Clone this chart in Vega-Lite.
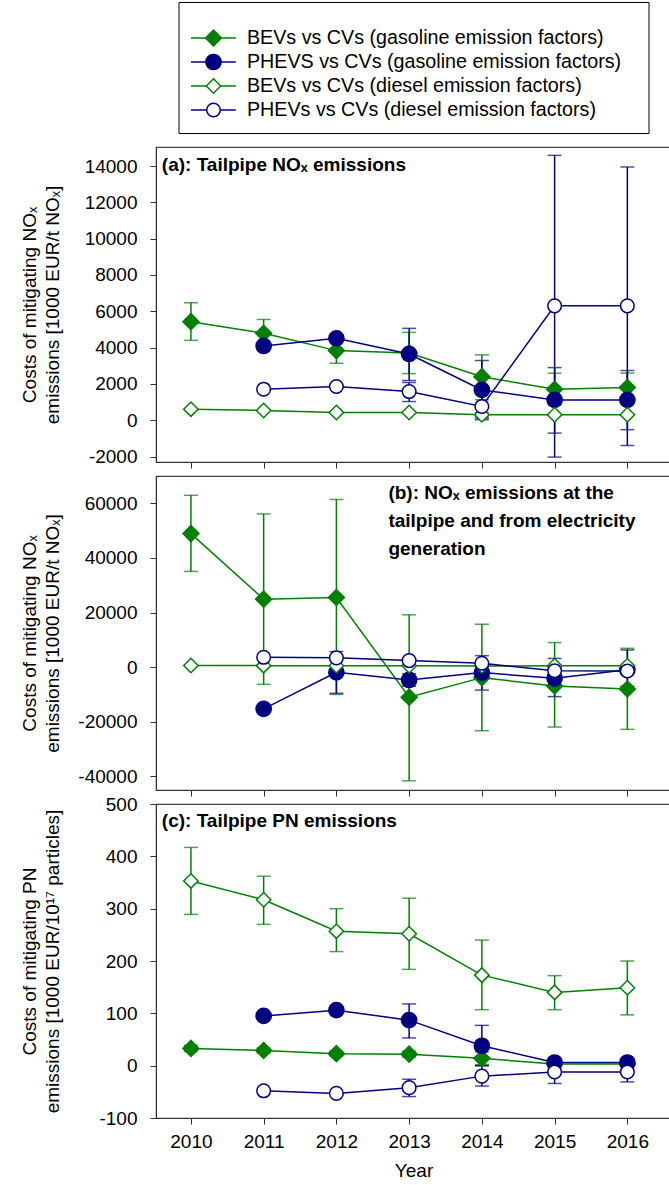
{
  "$schema": "https://vega.github.io/schema/vega-lite/v6.json",
  "padding": {"left": 19, "top": 1, "right": 0, "bottom": 0},
  "bounds": "flush",
  "center": true,
  "spacing": 14,
  "config": {
    "font": "Liberation Sans",
    "view": {"stroke": "#444", "strokeWidth": 1.2},
    "legend": {"disable": true},
    "axis": {"labelFont": "Liberation Sans", "titleFont": "Liberation Sans", "labelFontSize": 19, "titleFontSize": 19, "titleFontWeight": "normal", "labelColor": "black", "titleColor": "black", "domainColor": "#333", "tickColor": "#333", "tickSize": 6, "grid": false, "labelPadding": 13, "titleLineHeight": 23, "labelOverlap": false}
  },
  "datasets": {
    "legend": [
      {"series": "BEVs vs CVs (gasoline emission factors)"},
      {"series": "PHEVS vs CVs (gasoline emission factors)"},
      {"series": "BEVs vs CVs (diesel emission factors)"},
      {"series": "PHEVs vs CVs (diesel emission factors)"}
    ],
    "a": [
      {"series": "BEVs vs CVs (gasoline emission factors)", "year": 2010, "value": 5430, "lo": 4400, "hi": 6470},
      {"series": "BEVs vs CVs (gasoline emission factors)", "year": 2011, "value": 4790, "lo": 4050, "hi": 5550},
      {"series": "BEVs vs CVs (gasoline emission factors)", "year": 2012, "value": 3835, "lo": 3140, "hi": 4530},
      {"series": "BEVs vs CVs (gasoline emission factors)", "year": 2013, "value": 3700, "lo": 2570, "hi": 4840},
      {"series": "BEVs vs CVs (gasoline emission factors)", "year": 2014, "value": 2400, "lo": 1130, "hi": 3600},
      {"series": "BEVs vs CVs (gasoline emission factors)", "year": 2015, "value": 1710, "lo": 830, "hi": 2590},
      {"series": "BEVs vs CVs (gasoline emission factors)", "year": 2016, "value": 1800, "lo": 1000, "hi": 2600},
      {"series": "PHEVS vs CVs (gasoline emission factors)", "year": 2011, "value": 4090, "lo": null, "hi": null},
      {"series": "PHEVS vs CVs (gasoline emission factors)", "year": 2012, "value": 4510, "lo": null, "hi": null},
      {"series": "PHEVS vs CVs (gasoline emission factors)", "year": 2013, "value": 3650, "lo": 2190, "hi": 5060},
      {"series": "PHEVS vs CVs (gasoline emission factors)", "year": 2014, "value": 1670, "lo": 120, "hi": 3290},
      {"series": "PHEVS vs CVs (gasoline emission factors)", "year": 2015, "value": 1120, "lo": -710, "hi": 2900},
      {"series": "PHEVS vs CVs (gasoline emission factors)", "year": 2016, "value": 1120, "lo": -520, "hi": 2740},
      {"series": "BEVs vs CVs (diesel emission factors)", "year": 2010, "value": 610, "lo": null, "hi": null},
      {"series": "BEVs vs CVs (diesel emission factors)", "year": 2011, "value": 540, "lo": null, "hi": null},
      {"series": "BEVs vs CVs (diesel emission factors)", "year": 2012, "value": 430, "lo": null, "hi": null},
      {"series": "BEVs vs CVs (diesel emission factors)", "year": 2013, "value": 430, "lo": null, "hi": null},
      {"series": "BEVs vs CVs (diesel emission factors)", "year": 2014, "value": 300, "lo": 180, "hi": 420},
      {"series": "BEVs vs CVs (diesel emission factors)", "year": 2015, "value": 300, "lo": null, "hi": null},
      {"series": "BEVs vs CVs (diesel emission factors)", "year": 2016, "value": 300, "lo": null, "hi": null},
      {"series": "PHEVs vs CVs (diesel emission factors)", "year": 2011, "value": 1710, "lo": null, "hi": null},
      {"series": "PHEVs vs CVs (diesel emission factors)", "year": 2012, "value": 1860, "lo": null, "hi": null},
      {"series": "PHEVs vs CVs (diesel emission factors)", "year": 2013, "value": 1580, "lo": 1030, "hi": 2080},
      {"series": "PHEVs vs CVs (diesel emission factors)", "year": 2014, "value": 760, "lo": 30, "hi": 1480},
      {"series": "PHEVs vs CVs (diesel emission factors)", "year": 2015, "value": 6300, "lo": -2030, "hi": 14590},
      {"series": "PHEVs vs CVs (diesel emission factors)", "year": 2016, "value": 6300, "lo": -1390, "hi": 13950}
    ],
    "b": [
      {"series": "BEVs vs CVs (gasoline emission factors)", "year": 2010, "value": 48900, "lo": 35050, "hi": 62940},
      {"series": "BEVs vs CVs (gasoline emission factors)", "year": 2011, "value": 24900, "lo": -6300, "hi": 56100},
      {"series": "BEVs vs CVs (gasoline emission factors)", "year": 2012, "value": 25500, "lo": -10000, "hi": 61400},
      {"series": "BEVs vs CVs (gasoline emission factors)", "year": 2013, "value": -11000, "lo": -41650, "hi": 19150},
      {"series": "BEVs vs CVs (gasoline emission factors)", "year": 2014, "value": -3850, "lo": -23300, "hi": 15700},
      {"series": "BEVs vs CVs (gasoline emission factors)", "year": 2015, "value": -6900, "lo": -21950, "hi": 9000},
      {"series": "BEVs vs CVs (gasoline emission factors)", "year": 2016, "value": -8000, "lo": -22800, "hi": 6900},
      {"series": "PHEVS vs CVs (gasoline emission factors)", "year": 2011, "value": -15300, "lo": null, "hi": null},
      {"series": "PHEVS vs CVs (gasoline emission factors)", "year": 2012, "value": -1900, "lo": -9600, "hi": 5700},
      {"series": "PHEVS vs CVs (gasoline emission factors)", "year": 2013, "value": -4700, "lo": -7000, "hi": -2400},
      {"series": "PHEVS vs CVs (gasoline emission factors)", "year": 2014, "value": -2000, "lo": -8400, "hi": 4200},
      {"series": "PHEVS vs CVs (gasoline emission factors)", "year": 2015, "value": -4100, "lo": -10800, "hi": 3200},
      {"series": "PHEVS vs CVs (gasoline emission factors)", "year": 2016, "value": -1000, "lo": -7000, "hi": 6300},
      {"series": "BEVs vs CVs (diesel emission factors)", "year": 2010, "value": 600, "lo": null, "hi": null},
      {"series": "BEVs vs CVs (diesel emission factors)", "year": 2011, "value": 550, "lo": null, "hi": null},
      {"series": "BEVs vs CVs (diesel emission factors)", "year": 2012, "value": 500, "lo": null, "hi": null},
      {"series": "BEVs vs CVs (diesel emission factors)", "year": 2013, "value": 500, "lo": null, "hi": null},
      {"series": "BEVs vs CVs (diesel emission factors)", "year": 2014, "value": 400, "lo": null, "hi": null},
      {"series": "BEVs vs CVs (diesel emission factors)", "year": 2015, "value": 500, "lo": null, "hi": null},
      {"series": "BEVs vs CVs (diesel emission factors)", "year": 2016, "value": 500, "lo": null, "hi": null},
      {"series": "PHEVs vs CVs (diesel emission factors)", "year": 2011, "value": 3600, "lo": null, "hi": null},
      {"series": "PHEVs vs CVs (diesel emission factors)", "year": 2012, "value": 3400, "lo": null, "hi": null},
      {"series": "PHEVs vs CVs (diesel emission factors)", "year": 2013, "value": 2400, "lo": null, "hi": null},
      {"series": "PHEVs vs CVs (diesel emission factors)", "year": 2014, "value": 1400, "lo": null, "hi": null},
      {"series": "PHEVs vs CVs (diesel emission factors)", "year": 2015, "value": -1300, "lo": null, "hi": null},
      {"series": "PHEVs vs CVs (diesel emission factors)", "year": 2016, "value": -1400, "lo": null, "hi": null}
    ],
    "c": [
      {"series": "BEVs vs CVs (gasoline emission factors)", "year": 2010, "value": 33, "lo": 27, "hi": 39},
      {"series": "BEVs vs CVs (gasoline emission factors)", "year": 2011, "value": 29, "lo": 24, "hi": 34},
      {"series": "BEVs vs CVs (gasoline emission factors)", "year": 2012, "value": 23, "lo": 18, "hi": 28},
      {"series": "BEVs vs CVs (gasoline emission factors)", "year": 2013, "value": 22, "lo": 16, "hi": 28},
      {"series": "BEVs vs CVs (gasoline emission factors)", "year": 2014, "value": 14, "lo": 2, "hi": 26},
      {"series": "BEVs vs CVs (gasoline emission factors)", "year": 2015, "value": 3, "lo": 0, "hi": 6},
      {"series": "BEVs vs CVs (gasoline emission factors)", "year": 2016, "value": 3, "lo": 0, "hi": 6},
      {"series": "PHEVS vs CVs (gasoline emission factors)", "year": 2011, "value": 95, "lo": null, "hi": null},
      {"series": "PHEVS vs CVs (gasoline emission factors)", "year": 2012, "value": 106, "lo": null, "hi": null},
      {"series": "PHEVS vs CVs (gasoline emission factors)", "year": 2013, "value": 87, "lo": 53, "hi": 118},
      {"series": "PHEVS vs CVs (gasoline emission factors)", "year": 2014, "value": 38, "lo": 0, "hi": 77},
      {"series": "PHEVS vs CVs (gasoline emission factors)", "year": 2015, "value": 6, "lo": -2, "hi": 12},
      {"series": "PHEVS vs CVs (gasoline emission factors)", "year": 2016, "value": 6, "lo": -2, "hi": 12},
      {"series": "BEVs vs CVs (diesel emission factors)", "year": 2010, "value": 353, "lo": 289, "hi": 417},
      {"series": "BEVs vs CVs (diesel emission factors)", "year": 2011, "value": 317, "lo": 270, "hi": 362},
      {"series": "BEVs vs CVs (diesel emission factors)", "year": 2012, "value": 257, "lo": 218, "hi": 300},
      {"series": "BEVs vs CVs (diesel emission factors)", "year": 2013, "value": 252, "lo": 184, "hi": 320},
      {"series": "BEVs vs CVs (diesel emission factors)", "year": 2014, "value": 173, "lo": 107, "hi": 240},
      {"series": "BEVs vs CVs (diesel emission factors)", "year": 2015, "value": 140, "lo": 107, "hi": 172},
      {"series": "BEVs vs CVs (diesel emission factors)", "year": 2016, "value": 149, "lo": 97, "hi": 200},
      {"series": "PHEVs vs CVs (diesel emission factors)", "year": 2011, "value": -48, "lo": null, "hi": null},
      {"series": "PHEVs vs CVs (diesel emission factors)", "year": 2012, "value": -53, "lo": null, "hi": null},
      {"series": "PHEVs vs CVs (diesel emission factors)", "year": 2013, "value": -42, "lo": -59, "hi": -26},
      {"series": "PHEVs vs CVs (diesel emission factors)", "year": 2014, "value": -20, "lo": -39, "hi": 0},
      {"series": "PHEVs vs CVs (diesel emission factors)", "year": 2015, "value": -12, "lo": -34, "hi": 7},
      {"series": "PHEVs vs CVs (diesel emission factors)", "year": 2016, "value": -12, "lo": -31, "hi": 6}
    ]
  },
  "vconcat": [
    {
      "width": 470, "height": 131,
      "view": {"stroke": "black", "strokeWidth": 1},
      "data": {"name": "legend"},
      "encoding": {
        "y": {"field": "series", "type": "nominal", "scale": {"type": "point", "domain": ["BEVs vs CVs (gasoline emission factors)", "PHEVS vs CVs (gasoline emission factors)", "BEVs vs CVs (diesel emission factors)", "PHEVs vs CVs (diesel emission factors)"], "padding": 0, "range": [36, 108]}, "axis": null}
      },
      "layer": [
        {
          "mark": {"type": "rule", "strokeWidth": 1.5},
          "encoding": {
            "x": {"datum": 0.0266, "type": "quantitative", "scale": {"domain": [0, 1], "nice": false, "zero": false}, "axis": null},
            "x2": {"datum": 0.122},
            "color": {"field": "series", "type": "nominal"}
          }
        },
        {
          "mark": {"type": "point", "strokeWidth": 1.5, "opacity": 1},
          "encoding": {
            "x": {"datum": 0.0745, "type": "quantitative"},
            "shape": {"field": "series", "type": "nominal"},
            "fill": {"field": "series", "type": "nominal"},
            "stroke": {"field": "series", "type": "nominal"},
            "size": {"field": "series", "type": "nominal"}
          }
        },
        {
          "mark": {"type": "text", "align": "left", "baseline": "middle", "font": "Liberation Sans", "fontSize": 19.7, "color": "black"},
          "encoding": {
            "x": {"datum": 0.1457, "type": "quantitative"},
            "text": {"field": "series", "type": "nominal"}
          }
        }
      ]
    },
    {
      "width": 515, "height": 315,
      "data": {"name": "a"},
      "encoding": {
        "x": {"field": "year", "type": "quantitative", "scale": {"domain": [2009.52, 2016.6], "nice": false, "zero": false}, "axis": {"values": [2010, 2011, 2012, 2013, 2014, 2015, 2016], "tickCount": 20, "labels": false, "title": null}}
      },
      "layer": [
        {
          "transform": [{"filter": "isValid(datum.lo)"}],
          "mark": {"type": "errorbar", "ticks": {"size": 14, "thickness": 1.5}, "thickness": 1.5},
          "encoding": {
            "y": {"field": "lo", "type": "quantitative", "scale": {"domain": [-2300, 15050], "nice": false, "zero": false}, "axis": {"values": [-2000, 0, 2000, 4000, 6000, 8000, 10000, 12000, 14000], "tickCount": 20, "labelExpr": "datum.value + ''", "labelOverlap": false, "title": ["Costs of mitigating NOₓ", "emissions [1000 EUR/t NOₓ]"], "titleX": -117}},
            "y2": {"field": "hi"},
            "color": {"field": "series", "type": "nominal", "scale": {"domain": ["BEVs vs CVs (gasoline emission factors)", "PHEVS vs CVs (gasoline emission factors)", "BEVs vs CVs (diesel emission factors)", "PHEVs vs CVs (diesel emission factors)"], "range": ["#008000", "#000080", "#008000", "#000080"]}}
          }
        },
        {
          "mark": {"type": "line", "strokeWidth": 1.5},
          "encoding": {
            "y": {"field": "value", "type": "quantitative", "scale": {"domain": [-2300, 15050], "nice": false, "zero": false}, "axis": {"values": [-2000, 0, 2000, 4000, 6000, 8000, 10000, 12000, 14000], "tickCount": 20, "labelExpr": "datum.value + ''", "labelOverlap": false, "title": ["Costs of mitigating NOₓ", "emissions [1000 EUR/t NOₓ]"], "titleX": -117}},
            "color": {"field": "series", "type": "nominal"}
          }
        },
        {
          "mark": {"type": "point", "strokeWidth": 1.5, "opacity": 1},
          "encoding": {
            "y": {"field": "value", "type": "quantitative"},
            "shape": {"field": "series", "type": "nominal", "scale": {"domain": ["BEVs vs CVs (gasoline emission factors)", "PHEVS vs CVs (gasoline emission factors)", "BEVs vs CVs (diesel emission factors)", "PHEVs vs CVs (diesel emission factors)"], "range": ["diamond", "circle", "diamond", "circle"]}},
            "fill": {"field": "series", "type": "nominal", "scale": {"domain": ["BEVs vs CVs (gasoline emission factors)", "PHEVS vs CVs (gasoline emission factors)", "BEVs vs CVs (diesel emission factors)", "PHEVs vs CVs (diesel emission factors)"], "range": ["#008000", "#000080", "white", "white"]}},
            "stroke": {"field": "series", "type": "nominal", "scale": {"domain": ["BEVs vs CVs (gasoline emission factors)", "PHEVS vs CVs (gasoline emission factors)", "BEVs vs CVs (diesel emission factors)", "PHEVs vs CVs (diesel emission factors)"], "range": ["#008000", "#000080", "#008000", "#000080"]}},
            "size": {"field": "series", "type": "nominal", "scale": {"domain": ["BEVs vs CVs (gasoline emission factors)", "PHEVS vs CVs (gasoline emission factors)", "BEVs vs CVs (diesel emission factors)", "PHEVs vs CVs (diesel emission factors)"], "range": [256, 185, 256, 170]}}
          }
        },
        {
          "transform": [{"filter": "datum.year === 2010 && indexof(datum.series, 'BEVs vs CVs (gasoline') === 0"}],
          "mark": {"type": "text", "align": "left", "baseline": "middle", "font": "Liberation Sans", "fontSize": 19, "fontWeight": "bold", "color": "black"},
          "encoding": {"x": {"datum": 2009.6, "type": "quantitative"}, "y": {"datum": 14060, "type": "quantitative"}, "text": {"value": "(a): Tailpipe NOₓ emissions"}}
        }
      ]
    },
    {
      "width": 515, "height": 314,
      "data": {"name": "b"},
      "encoding": {
        "x": {"field": "year", "type": "quantitative", "scale": {"domain": [2009.52, 2016.6], "nice": false, "zero": false}, "axis": {"values": [2010, 2011, 2012, 2013, 2014, 2015, 2016], "tickCount": 20, "labels": false, "title": null}}
      },
      "layer": [
        {
          "transform": [{"filter": "isValid(datum.lo)"}],
          "mark": {"type": "errorbar", "ticks": {"size": 14, "thickness": 1.5}, "thickness": 1.5},
          "encoding": {
            "y": {"field": "lo", "type": "quantitative", "scale": {"domain": [-45000, 70000], "nice": false, "zero": false}, "axis": {"values": [-40000, -20000, 0, 20000, 40000, 60000], "tickCount": 20, "labelExpr": "datum.value + ''", "labelOverlap": false, "title": ["Costs of mitigating NOₓ", "emissions [1000 EUR/t NOₓ]"], "titleX": -117}},
            "y2": {"field": "hi"},
            "color": {"field": "series", "type": "nominal"}
          }
        },
        {
          "mark": {"type": "line", "strokeWidth": 1.5},
          "encoding": {
            "y": {"field": "value", "type": "quantitative", "scale": {"domain": [-45000, 70000], "nice": false, "zero": false}, "axis": {"values": [-40000, -20000, 0, 20000, 40000, 60000], "tickCount": 20, "labelExpr": "datum.value + ''", "labelOverlap": false, "title": ["Costs of mitigating NOₓ", "emissions [1000 EUR/t NOₓ]"], "titleX": -117}},
            "color": {"field": "series", "type": "nominal"}
          }
        },
        {
          "mark": {"type": "point", "strokeWidth": 1.5, "opacity": 1},
          "encoding": {
            "y": {"field": "value", "type": "quantitative"},
            "shape": {"field": "series", "type": "nominal"},
            "fill": {"field": "series", "type": "nominal"},
            "stroke": {"field": "series", "type": "nominal"},
            "size": {"field": "series", "type": "nominal"}
          }
        },
        {
          "transform": [{"filter": "datum.year === 2010 && indexof(datum.series, 'BEVs vs CVs (gasoline') === 0"}],
          "mark": {"type": "text", "align": "left", "baseline": "top", "font": "Liberation Sans", "fontSize": 19, "fontWeight": "bold", "color": "black", "lineHeight": 28},
          "encoding": {"x": {"datum": 2012.715, "type": "quantitative"}, "y": {"datum": 67200, "type": "quantitative"}, "text": {"value": ["(b): NOₓ emissions at the", "tailpipe and from electricity", "generation"]}}
        }
      ]
    },
    {
      "width": 515, "height": 314,
      "data": {"name": "c"},
      "encoding": {
        "x": {"field": "year", "type": "quantitative", "scale": {"domain": [2009.52, 2016.6], "nice": false, "zero": false}, "axis": {"values": [2010, 2011, 2012, 2013, 2014, 2015, 2016], "tickCount": 20, "format": "d", "labelPadding": 8, "title": "Year", "titlePadding": 10}}
      },
      "layer": [
        {
          "transform": [{"filter": "isValid(datum.lo)"}],
          "mark": {"type": "errorbar", "ticks": {"size": 14, "thickness": 1.5}, "thickness": 1.5},
          "encoding": {
            "y": {"field": "lo", "type": "quantitative", "scale": {"domain": [-100, 500], "nice": false, "zero": false}, "axis": {"values": [-100, 0, 100, 200, 300, 400, 500], "tickCount": 20, "labelExpr": "datum.value + ''", "labelOverlap": false, "title": ["Costs of mitigating PN", "emissions [1000 EUR/10¹⁷ particles]"], "titleX": -117}},
            "y2": {"field": "hi"},
            "color": {"field": "series", "type": "nominal"}
          }
        },
        {
          "mark": {"type": "line", "strokeWidth": 1.5},
          "encoding": {
            "y": {"field": "value", "type": "quantitative", "scale": {"domain": [-100, 500], "nice": false, "zero": false}, "axis": {"values": [-100, 0, 100, 200, 300, 400, 500], "tickCount": 20, "labelExpr": "datum.value + ''", "labelOverlap": false, "title": ["Costs of mitigating PN", "emissions [1000 EUR/10¹⁷ particles]"], "titleX": -117}},
            "color": {"field": "series", "type": "nominal"}
          }
        },
        {
          "mark": {"type": "point", "strokeWidth": 1.5, "opacity": 1},
          "encoding": {
            "y": {"field": "value", "type": "quantitative"},
            "shape": {"field": "series", "type": "nominal"},
            "fill": {"field": "series", "type": "nominal"},
            "stroke": {"field": "series", "type": "nominal"},
            "size": {"field": "series", "type": "nominal"}
          }
        },
        {
          "transform": [{"filter": "datum.year === 2010 && indexof(datum.series, 'BEVs vs CVs (gasoline') === 0"}],
          "mark": {"type": "text", "align": "left", "baseline": "middle", "font": "Liberation Sans", "fontSize": 19, "fontWeight": "bold", "color": "black"},
          "encoding": {"x": {"datum": 2009.6, "type": "quantitative"}, "y": {"datum": 467, "type": "quantitative"}, "text": {"value": "(c): Tailpipe PN emissions"}}
        }
      ]
    }
  ]
}
